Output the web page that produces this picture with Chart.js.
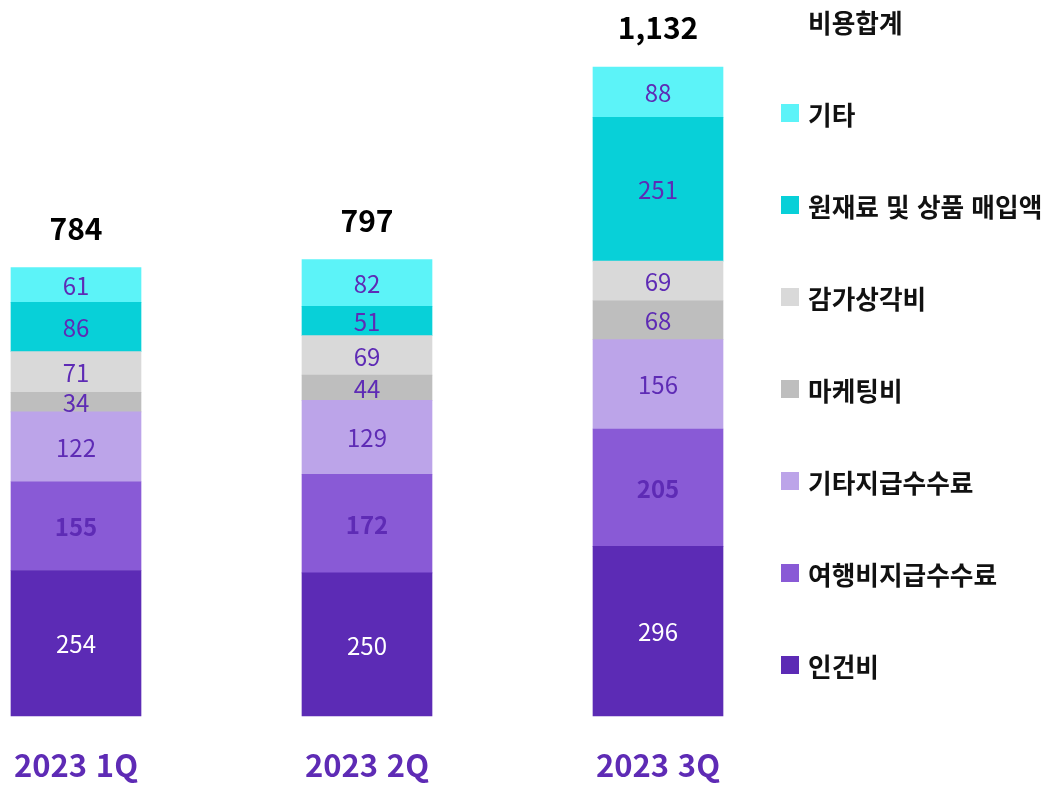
<!DOCTYPE html>
<html lang="ko">
<head>
<meta charset="utf-8">
<script src="https://cdn.jsdelivr.net/npm/chart.js@4"></script>
<style>
    body { margin: 0; background: #fff; font-family: "Noto Sans CJK KR", sans-serif; }
    #wrap { position: relative; width: 1046px; height: 786px; }
    #legend { position: absolute; left: 781px; top: -25px; }
    #legend .row { height: 92px; display: flex; align-items: center; font-size: 25.7px; font-weight: 700; color: #111; white-space: nowrap; }
    #legend .title { padding-left: 27px; }
    #legend .box { width: 18px; height: 18px; margin-right: 9px; flex: none; }
</style>
</head>
<body>
<div id="wrap">
    <canvas id="costChart"></canvas>
    <div id="legend"></div>
</div>
<script>
const quarters = ["2023 1Q", "2023 2Q", "2023 3Q"];
const totals = [784, 797, 1132];

// stacked from bottom to top
const seriesNames = ["인건비", "여행비지급수수료", "기타지급수수료", "마케팅비", "감가상각비", "원재료 및 상품 매입액", "기타"];
const labor = [254, 250, 296];
const travelFees = [155, 172, 205];
const otherFees = [122, 129, 156];
const marketing = [34, 44, 68];
const depreciation = [71, 69, 69];
const materials = [86, 51, 251];
const others = [61, 82, 88];

const seriesValues = [labor, travelFees, otherFees, marketing, depreciation, materials, others];
const seriesColors = ["#5c2bb5", "#895ad6", "#bca4e9", "#bebebe", "#d9d9d9", "#08d0d8", "#5cf3f8"];
const labelColors = ["#ffffff", "#5e2bb5", "#5e2bb5", "#5e2bb5", "#5e2bb5", "#5e2bb5", "#5e2bb5"];
const labelWeights = ["400", "700", "400", "400", "400", "400", "400"];

const FONT = '"Noto Sans CJK KR", sans-serif';
Chart.defaults.font.family = FONT;

const segmentLabels = {
    id: "segmentLabels",
    afterDatasetsDraw(chart) {
        const ctx = chart.ctx;
        ctx.save();
        ctx.textAlign = "center";
        ctx.textBaseline = "middle";
        chart.data.datasets.forEach((ds, i) => {
            const meta = chart.getDatasetMeta(i);
            ctx.fillStyle = labelColors[i];
            ctx.font = labelWeights[i] + " 24px " + FONT;
            meta.data.forEach((bar, j) => {
                const y = (bar.y + bar.base) / 2;
                ctx.fillText(String(ds.data[j]), bar.x, y + 1);
            });
        });

        const topMeta = chart.getDatasetMeta(chart.data.datasets.length - 1);
        ctx.fillStyle = "#000";
        ctx.font = "700 30px " + FONT;
        topMeta.data.forEach((bar, j) => {
            ctx.fillText(totals[j].toLocaleString("en-US"), bar.x, bar.y - 39);
        });
        ctx.restore();
    },
};

new Chart(document.getElementById("costChart"), {
    type: "bar",
    data: {
        labels: quarters,
        datasets: seriesNames.map((name, i) => ({
            label: name,
            data: seriesValues[i],
            backgroundColor: seriesColors[i],
            borderWidth: 0,
            barThickness: 130,
            clip: false,
        })),
    },
    options: {
        responsive: true,
        maintainAspectRatio: false,
        animation: false,
        layout: { padding: { left: 76, right: 388, top: 67, bottom: 3 } },
        plugins: {
            legend: { display: false },
            tooltip: { enabled: false },
        },
        scales: {
            x: {
                stacked: true,
                offset: false,
                grid: { display: false, drawTicks: false },
                border: { display: false },
                ticks: {
                    color: "#5e2bb5",
                    padding: 31,
                    maxRotation: 0,
                    font: { size: 31, weight: "700" },
                },
                afterFit(scale) {
                    scale.height = 67;
                    scale.paddingLeft = 0;
                    scale.paddingRight = 0;
                },
            },
            y: {
                stacked: true,
                display: false,
                min: 0,
                max: 1133,
            },
        },
    },
    plugins: [segmentLabels],
});

const legend = document.getElementById("legend");
const title = document.createElement("div");
title.className = "row title";
title.textContent = "비용합계";
legend.appendChild(title);
for (let i = seriesNames.length - 1; i >= 0; i--) {
    const row = document.createElement("div");
    row.className = "row";
    const box = document.createElement("span");
    box.className = "box";
    box.style.background = seriesColors[i];
    const text = document.createElement("span");
    text.textContent = seriesNames[i];
    row.appendChild(box);
    row.appendChild(text);
    legend.appendChild(row);
}
</script>
</body>
</html>
